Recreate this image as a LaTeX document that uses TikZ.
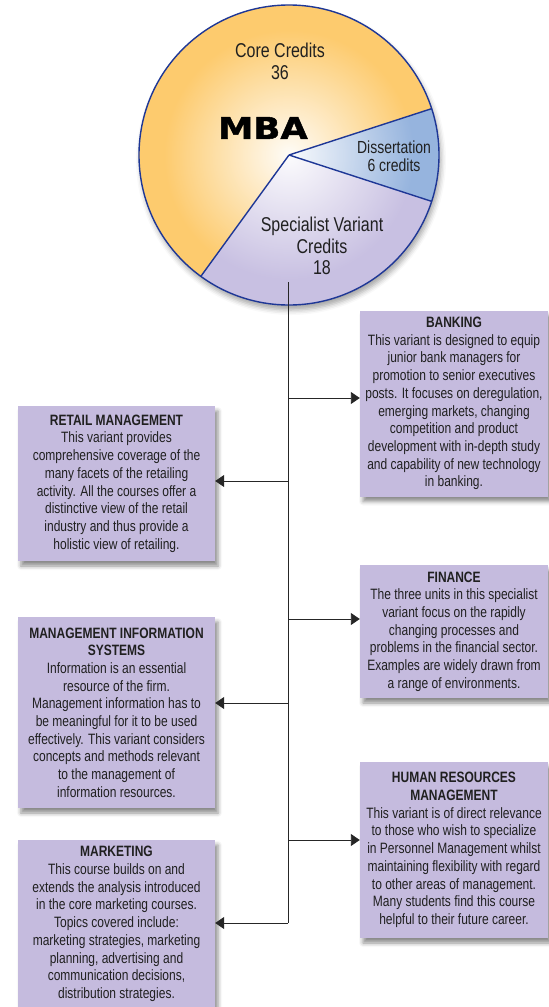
\documentclass[tikz,border=0pt]{standalone}
\usepackage{fontspec}
\setmainfont{Liberation Sans}[FakeStretch=0.8]
\newfontfamily\mbafont{DejaVu Sans}[FakeStretch=1.18,FakeBold=1.6]
\usetikzlibrary{arrows.meta,shadows.blur,fadings}
\definecolor{corecol}{RGB}{253,203,110}
\definecolor{dissblue}{RGB}{150,180,222}
\definecolor{speclav}{RGB}{200,192,226}
\definecolor{rimblue}{RGB}{30,55,150}
\definecolor{boxlav}{RGB}{197,187,222}
\definecolor{txtgray}{RGB}{32,32,32}
\tikzfading[name=glowfade, inner color=transparent!0, outer color=transparent!100]
\begin{document}
\begin{tikzpicture}[x=1pt,y=-1pt,
  infobox/.style={fill=boxlav, text=txtgray, align=center, inner sep=0pt,
    font=\fontsize{15}{17.7}\selectfont,
    blur shadow={shadow xshift=3pt, shadow yshift=-5pt, shadow blur radius=4pt, shadow opacity=45}},
  pielabel/.style={text=txtgray, align=center, inner sep=0pt},
  conn/.style={draw=black!85, line width=0.9pt, -{Triangle[length=9pt,width=12pt]}},
  spine/.style={draw=black!85, line width=0.9pt},
  rim/.style={draw=rimblue, line width=1.4pt}]
\useasboundingbox (0,0) rectangle (549,1007);

% ---------- pie ----------
\coordinate (c) at (289,155);
\fill[white, blur shadow={shadow xshift=2pt, shadow yshift=-5pt, shadow blur radius=5pt, shadow opacity=35}] (c) circle[radius=150];
\fill[corecol] (c) -- ++(-18:150) arc[start angle=-18, end angle=-234, radius=150] -- cycle;
\fill[dissblue] (c) -- ++(-18:150) arc[start angle=-18, end angle=18, radius=150] -- cycle;
\fill[speclav] (c) -- ++(18:150) arc[start angle=18, end angle=126, radius=150] -- cycle;
\begin{scope}
  \clip (c) circle[radius=150];
  \fill[white, path fading=glowfade, opacity=0.95] (c) circle[radius=125];
\end{scope}
\draw[rim] (c) -- ++(-18:150);
\draw[rim] (c) -- ++(18:150);
\draw[rim] (c) -- ++(126:150);
\draw[rim] (c) circle[radius=150];

\node[pielabel, font=\fontsize{20}{22}\selectfont] (corelbl) at (280,61) {Core Credits\\36};
\node[pielabel, font=\fontsize{17.5}{18}\selectfont] (disslbl) at (394,156) {Dissertation\\6 credits};
\node[pielabel, font=\fontsize{20}{21.5}\selectfont] (speclbl) at (322,246) {Specialist Variant\\Credits\\18};
\node[inner sep=0pt, text=black, font=\mbafont\bfseries\fontsize{30}{30}\selectfont] (mba) at (263,128) {MBA};

% ---------- boxes ----------
\node[infobox, minimum width=188pt, minimum height=186pt] (bank) at (454,403.5) {\textbf{BANKING}\\This variant is designed to equip\\junior bank managers for\\promotion to senior executives\\posts. It focuses on deregulation,\\emerging markets, changing\\competition and product\\development with in-depth study\\and capability of new technology\\in banking.};
\node[infobox, minimum width=197pt, minimum height=155pt] (retail) at (116.5,483.5) {\textbf{RETAIL MANAGEMENT}\\This variant provides\\comprehensive coverage of the\\many facets of the retailing\\activity. All the courses offer a\\distinctive view of the retail\\industry and thus provide a\\holistic view of retailing.};
\node[infobox, minimum width=188pt, minimum height=133pt] (fin) at (454,631.5) {\textbf{FINANCE}\\The three units in this specialist\\variant focus on the rapidly\\changing processes and\\problems in the financial sector.\\Examples are widely drawn from\\a range of environments.};
\node[infobox, minimum width=197pt, minimum height=191pt] (mis) at (116.5,712.5) {\textbf{MANAGEMENT INFORMATION}\\\textbf{SYSTEMS}\\Information is an essential\\resource of the firm.\\Management information has to\\be meaningful for it to be used\\effectively. This variant considers\\concepts and methods relevant\\to the management of\\information resources.};
\node[infobox, minimum width=188pt, minimum height=176pt] (hr) at (454,850) {\textbf{HUMAN RESOURCES}\\\textbf{MANAGEMENT}\\This variant is of direct relevance\\to those who wish to specialize\\in Personnel Management whilst\\maintaining flexibility with regard\\to other areas of management.\\Many students find this course\\helpful to their future career.};
\node[infobox, minimum width=197pt, minimum height=168pt] (mkt) at (116.5,924) {\textbf{MARKETING}\\This course builds on and\\extends the analysis introduced\\in the core marketing courses.\\Topics covered include:\\marketing strategies, marketing\\planning, advertising and\\communication decisions,\\distribution strategies.};

% ---------- connectors ----------
\coordinate (top) at (288,282);
\coordinate (bend) at (288,923);
\coordinate (sbank) at (288,398);
\coordinate (sretail) at (288,481);
\coordinate (sfin) at (288,619);
\coordinate (smis) at (288,703);
\coordinate (shr) at (288,840);
\draw[spine] (top) -- (bend);
\draw[conn] (bend) -- (bend -| mkt.east);
\draw[conn] (sbank) -- (sbank -| bank.west);
\draw[conn] (sretail) -- (sretail -| retail.east);
\draw[conn] (sfin) -- (sfin -| fin.west);
\draw[conn] (smis) -- (smis -| mis.east);
\draw[conn] (shr) -- (shr -| hr.west);
\end{tikzpicture}
\end{document}
